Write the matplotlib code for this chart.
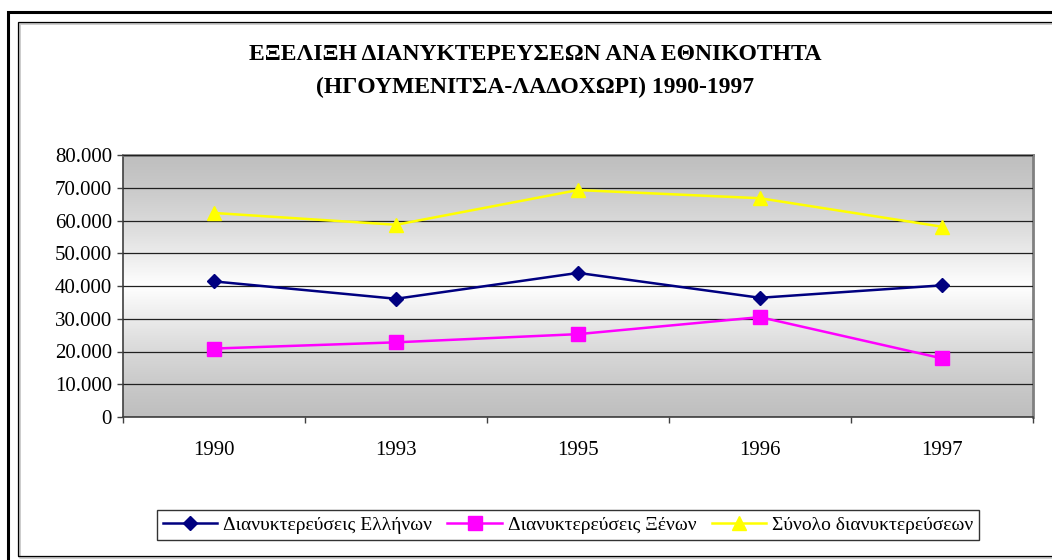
import matplotlib
matplotlib.use("Agg")
import matplotlib.pyplot as plt
import numpy as np
from matplotlib.patches import Rectangle
from matplotlib.lines import Line2D
from matplotlib.ticker import FuncFormatter, FixedLocator

years = ["1990", "1993", "1995", "1996", "1997"]
greeks = [41400, 36100, 44000, 36400, 40200]
foreigners = [20900, 22800, 25300, 30500, 17900]
total = [62300, 58700, 69300, 66800, 58100]

title1 = "ΕΞΕΛΙΞΗ ΔΙΑΝΥΚΤΕΡΕΥΣΕΩΝ ΑΝΑ ΕΘΝΙΚΟΤΗΤΑ"
title2 = "(ΗΓΟΥΜΕΝΙΤΣΑ-ΛΑΔΟΧΩΡΙ) 1990-1997"
labels = ["Διανυκτερεύσεις Ελλήνων", "Διανυκτερεύσεις Ξένων", "Σύνολο διανυκτερεύσεων"]

plt.rcParams['font.family'] = ['Liberation Serif', 'DejaVu Serif']

W, H = 1052, 560
fig = plt.figure(figsize=(W / 100, H / 100), dpi=100)


def px(x, y):
    # pixel coords (top-left origin) -> figure fraction
    return x / W, 1 - y / H


# outer frames
x0, y0 = px(8, 12)
fig.patches.append(Rectangle((x0, -0.1), 1.2, y0 + 0.1, transform=fig.transFigure,
                             fill=False, edgecolor="black", lw=2.2))
x1, y1 = px(19, 23)
fig.patches.append(Rectangle((x1, 1 - 557 / H), 1.2, y1 - (1 - 557 / H), transform=fig.transFigure,
                             fill=False, edgecolor="#c8c8c8", lw=2.0))
x1, y1 = px(18, 22)
fig.patches.append(Rectangle((x1, 1 - 556 / H), 1.2, y1 - (1 - 556 / H), transform=fig.transFigure,
                             fill=False, edgecolor="black", lw=0.9))

# title
fig.text(535 / W, 1 - 55 / H, title1, ha="center", va="center", fontsize=17, fontweight="bold")
fig.text(535 / W, 1 - 87 / H, title2, ha="center", va="center", fontsize=17, fontweight="bold")

left, right, top, bottom = 123, 1033, 155, 417
ax = fig.add_axes([left / W, 1 - bottom / H, (right - left) / W, (bottom - top) / H])

# gradient background
t = np.linspace(0, 1, 256)
g = 0.75 + 0.25 * (1 - np.abs(2 * t - 1)) ** 1.3
img = np.dstack([g, g, g]).reshape(256, 1, 3)
ax.imshow(img, aspect="auto", extent=(-0.5, 4.5, 0, 80000), zorder=0, interpolation="bilinear")

x = np.arange(len(years))
ax.plot(x, greeks, color="#000080", lw=1.8, marker="D", ms=7, zorder=3)
ax.plot(x, foreigners, color="#ff00ff", lw=1.8, marker="s", ms=9.5, zorder=3)
ax.plot(x, total, color="#ffff00", lw=1.8, marker="^", ms=10, zorder=3)

ax.set_xlim(-0.5, 4.5)
ax.set_ylim(0, 80000)
ax.set_yticks(range(0, 80001, 10000))
ax.yaxis.set_major_formatter(FuncFormatter(lambda v, p: f"{v:,.0f}".replace(",", ".")))
ax.grid(axis="y", color="#202020", lw=0.9, zorder=1)
ax.set_axisbelow(False)
for gl in ax.get_ygridlines():
    gl.set_zorder(1)

ax.set_xticks(x)
ax.set_xticklabels(years)
ax.xaxis.set_minor_locator(FixedLocator(np.arange(-0.5, 4.6, 1)))
ax.tick_params(axis="x", which="major", length=0, pad=17, labelsize=15)
ax.tick_params(axis="x", which="minor", length=4, width=1, color="#404040", direction="out")
ax.tick_params(axis="y", length=4, width=1, color="#404040", direction="out", pad=4, labelsize=15)

for s in ["top", "right"]:
    ax.spines[s].set_color("#808080")
    ax.spines[s].set_linewidth(2)
for s in ["left", "bottom"]:
    ax.spines[s].set_color("#404040")
    ax.spines[s].set_linewidth(1.2)

handles = [
    Line2D([], [], color="#000080", lw=1.8, marker="D", ms=7),
    Line2D([], [], color="#ff00ff", lw=1.8, marker="s", ms=9.5),
    Line2D([], [], color="#ffff00", lw=1.8, marker="^", ms=10),
]
lx, ly = px(568, 525)
leg = fig.legend(handles, labels, loc="center", bbox_to_anchor=(lx, ly), ncol=3,
                 fontsize=14, frameon=True, fancybox=False, edgecolor="black",
                 handlelength=2.8, handletextpad=0.3, columnspacing=0.8,
                 borderpad=0.3, borderaxespad=0)
leg.get_frame().set_linewidth(1)

fig.savefig("out.png", dpi=100)
